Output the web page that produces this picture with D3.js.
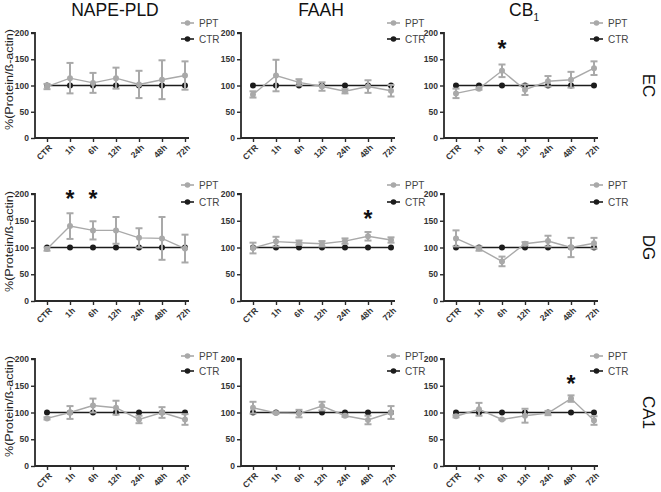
<!DOCTYPE html>
<html><head><meta charset="utf-8">
<script src="https://cdn.jsdelivr.net/npm/d3@7/dist/d3.min.js"></script>
<style>
html,body{margin:0;padding:0;background:#fff;}
svg{display:block;font-family:"Liberation Sans",Arial,sans-serif;}
</style></head>
<body>
<svg id="chart" width="661" height="492"></svg>
<script>
// ---------- data ----------
const categories = ["CTR","1h","6h","12h","24h","48h","72h"];
const proteins = ["NAPE-PLD","FAAH","CB1"];
const regions = ["EC","DG","CA1"];
const yTicks = [0,50,100,150,200];
const seriesNames = ["PPT","CTR"];
const ctrValues = [100,100,100,100,100,100,100];

// PPT means and error (SEM) per region x protein
const ppt_EC_NAPE   = [98,114,105,114,102,111,119];
const err_EC_NAPE   = [5,29,19,20,26,37,27];
const ppt_EC_FAAH   = [83,119,106,98,89,98,90];
const err_EC_FAAH   = [6,30,6,8,4,12,11];
const ppt_EC_CB1    = [85,94,128,92,108,111,133];
const err_EC_CB1    = [9,2,12,10,10,15,13];

const ppt_DG_NAPE   = [97,140,132,132,118,117,98];
const err_DG_NAPE   = [3,24,17,25,18,40,26];
const ppt_DG_FAAH   = [99,111,109,107,112,121,114];
const err_DG_FAAH   = [10,9,4,5,5,8,5];
const ppt_DG_CB1    = [117,98,74,107,112,100,108];
const err_DG_CB1    = [15,4,9,3,10,18,10];

const ppt_CA1_NAPE  = [89,100,113,109,87,100,87];
const err_CA1_NAPE  = [2,12,13,13,7,10,10];
const ppt_CA1_FAAH  = [109,99,98,112,94,86,100];
const err_CA1_FAAH  = [11,1,7,8,2,8,12];
const ppt_CA1_CB1   = [93,106,87,94,99,126,85];
const err_CA1_CB1   = [2,12,1,13,4,6,8];

// significance marks: [region, protein, category, level]
const sigMarks = [
  ["EC","CB1","6h",181],
  ["DG","NAPE-PLD","1h",202],
  ["DG","NAPE-PLD","6h",202],
  ["DG","FAAH","48h",164],
  ["CA1","CB1","48h",164]
];

const pptMeans = {
  EC:{"NAPE-PLD":ppt_EC_NAPE,"FAAH":ppt_EC_FAAH,"CB1":ppt_EC_CB1},
  DG:{"NAPE-PLD":ppt_DG_NAPE,"FAAH":ppt_DG_FAAH,"CB1":ppt_DG_CB1},
  CA1:{"NAPE-PLD":ppt_CA1_NAPE,"FAAH":ppt_CA1_FAAH,"CB1":ppt_CA1_CB1}
};
const pptErrs = {
  EC:{"NAPE-PLD":err_EC_NAPE,"FAAH":err_EC_FAAH,"CB1":err_EC_CB1},
  DG:{"NAPE-PLD":err_DG_NAPE,"FAAH":err_DG_FAAH,"CB1":err_DG_CB1},
  CA1:{"NAPE-PLD":err_CA1_NAPE,"FAAH":err_CA1_FAAH,"CB1":err_CA1_CB1}
};

// ---------- layout ----------
const colAxisX = [35, 241, 444];
const rowTopBottom = [[33,138],[194,301],[359,466]];
const legendY = [[23,39],[185,202],[356,371]];
const PPT_COLOR = "#a9a9a9";
const CTR_COLOR = "#1c1c1c";
const AXIS_COLOR = "#2a2a2a";

const svg = d3.select("#chart");

// titles
proteins.forEach((p,ci)=>{
  const t = svg.append("text")
    .attr("x", colAxisX[ci]+80).attr("y", 16)
    .attr("text-anchor","middle")
    .attr("font-size", 17.5)
    .attr("fill","#111");
  if (p === "CB1") {
    t.append("tspan").text("CB");
    t.append("tspan").text("1").attr("font-size",10).attr("dy",5);
  } else t.text(p);
});

regions.forEach((reg,ri)=>{
  const [top,bottom] = rowTopBottom[ri];
  // row label
  svg.append("text")
    .attr("transform",`translate(648,${(top+bottom)/2}) rotate(90)`)
    .attr("text-anchor","middle").attr("dominant-baseline","central")
    .attr("font-size",17).attr("fill","#111").text(reg);
  // y-axis title
  svg.append("text")
    .attr("transform",`translate(9,${(top+bottom)/2-6}) rotate(-90)`)
    .attr("text-anchor","middle").attr("dominant-baseline","central")
    .attr("font-size",11).attr("fill","#222")
    .attr("textLength",101).attr("lengthAdjust","spacingAndGlyphs")
    .text("%(Protein/ß-actin)");

  proteins.forEach((prot,ci)=>{
    const ax = colAxisX[ci];
    const y = d3.scaleLinear().domain([0,200]).range([bottom,top]);
    const x = d3.scalePoint().domain(categories).range([ax+12, ax+150]);
    const g = svg.append("g");

    // y axis
    const yAxis = d3.axisLeft(y).tickValues(yTicks).tickSize(4).tickPadding(2);
    const yg = g.append("g").attr("transform",`translate(${ax},0)`).call(yAxis);
    yg.select(".domain").attr("stroke",AXIS_COLOR).attr("stroke-width",1.8)
      .attr("d",`M-4,${top}H0V${bottom}`);
    yg.selectAll(".tick line").attr("stroke",AXIS_COLOR).attr("stroke-width",1.4);
    yg.selectAll(".tick text").attr("font-size",8.5).attr("font-weight","bold")
      .attr("fill","#333").attr("font-family","Liberation Sans, Arial, sans-serif");

    // x axis
    const xAxis = d3.axisBottom(x).tickSize(4).tickPadding(2);
    const xg = g.append("g").attr("transform",`translate(0,${bottom})`).call(xAxis);
    xg.select(".domain").attr("stroke",AXIS_COLOR).attr("stroke-width",1.8)
      .attr("d",`M${ax},0H${ax+154}`);
    xg.selectAll(".tick line").attr("stroke",AXIS_COLOR).attr("stroke-width",1.4);
    xg.selectAll(".tick text")
      .attr("font-size",8.5).attr("font-weight","bold").attr("fill","#333")
      .attr("font-family","Liberation Sans, Arial, sans-serif")
      .attr("text-anchor","end")
      .attr("dy",null)
      .attr("transform","translate(3,8) rotate(-45)")
      .attr("y",0).attr("x",0)
      .attr("dominant-baseline","central");

    // CTR series
    const ctrData = categories.map((c,i)=>({c, v:ctrValues[i]}));
    const line = d3.line().x(d=>x(d.c)).y(d=>y(d.v));
    g.append("path").datum(ctrData).attr("d",line)
      .attr("fill","none").attr("stroke",CTR_COLOR).attr("stroke-width",1.6);
    g.selectAll(".ctrdot").data(ctrData).join("circle")
      .attr("cx",d=>x(d.c)).attr("cy",d=>y(d.v)).attr("r",3).attr("fill",CTR_COLOR);

    // PPT series
    const means = pptMeans[reg][prot], errs = pptErrs[reg][prot];
    const pptData = categories.map((c,i)=>({c, v:means[i], e:errs[i]}));
    const eb = g.selectAll(".eb").data(pptData).join("g");
    eb.append("line")
      .attr("x1",d=>x(d.c)).attr("x2",d=>x(d.c))
      .attr("y1",d=>y(d.v+d.e)).attr("y2",d=>y(d.v-d.e))
      .attr("stroke",PPT_COLOR).attr("stroke-width",2);
    eb.append("line")
      .attr("x1",d=>x(d.c)-3.5).attr("x2",d=>x(d.c)+3.5)
      .attr("y1",d=>y(d.v+d.e)).attr("y2",d=>y(d.v+d.e))
      .attr("stroke",PPT_COLOR).attr("stroke-width",2);
    eb.append("line")
      .attr("x1",d=>x(d.c)-3.5).attr("x2",d=>x(d.c)+3.5)
      .attr("y1",d=>y(d.v-d.e)).attr("y2",d=>y(d.v-d.e))
      .attr("stroke",PPT_COLOR).attr("stroke-width",2);
    g.append("path").datum(pptData).attr("d",line)
      .attr("fill","none").attr("stroke",PPT_COLOR).attr("stroke-width",1.4);
    g.selectAll(".pptdot").data(pptData).join("circle")
      .attr("cx",d=>x(d.c)).attr("cy",d=>y(d.v)).attr("r",3).attr("fill",PPT_COLOR);

    // significance
    sigMarks.filter(s=>s[0]===reg && s[1]===prot).forEach(s=>{
      g.append("text").attr("x",x(s[2])).attr("y",y(s[3]))
        .attr("text-anchor","middle").attr("dominant-baseline","central")
        .attr("dy",6)
        .attr("font-size",23).attr("font-weight","bold").attr("fill","#111").text("*");
    });

    // legend
    const [ly1, ly2] = legendY[ri];
    const lg = g.append("g");
    [[seriesNames[0],PPT_COLOR,ly1],[seriesNames[1],CTR_COLOR,ly2]].forEach(([name,col,ly])=>{
      lg.append("line").attr("x1",ax+146).attr("x2",ax+159).attr("y1",ly).attr("y2",ly)
        .attr("stroke",col).attr("stroke-width",1.6);
      lg.append("circle").attr("cx",ax+152.5).attr("cy",ly).attr("r",2.8).attr("fill",col);
      lg.append("text").attr("x",ax+164).attr("y",ly).attr("dominant-baseline","central")
        .attr("font-size",10).attr("fill","#444").text(name);
    });
  });
});
</script>
</body></html>
